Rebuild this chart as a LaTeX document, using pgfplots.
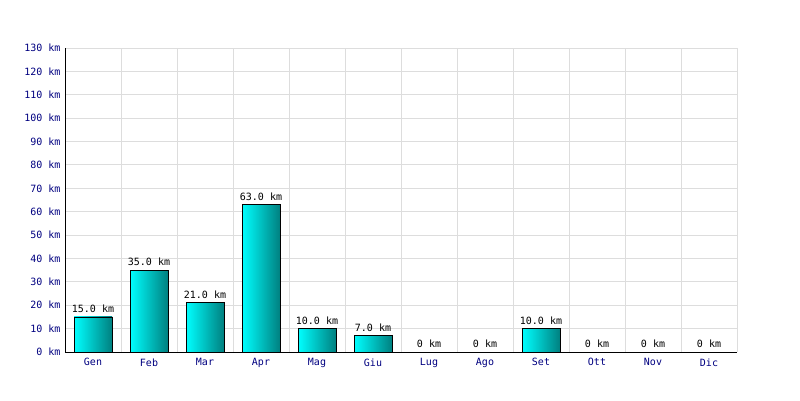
\documentclass[border=0pt]{standalone}
\usepackage{pgfplots}
\pgfplotsset{compat=1.18}
\usepackage{fontspec}
\setmainfont{DejaVu Sans Mono}
\definecolor{tickblue}{HTML}{000080}
\definecolor{gridgray}{HTML}{DDDDDD}
\definecolor{barteal}{RGB}{0,128,128}
\pgfplotsset{
  kmbar/.style={ybar, bar width=38pt, bar shift=0pt, draw=black, line width=0.8pt,
      left color=cyan, right color=barteal,
      point meta=explicit symbolic,
      nodes near coords,
      every node near coord/.style={font=\fontsize{10}{12}\selectfont, text=black, inner sep=4pt}},
}
\begin{document}
\begin{tikzpicture}[x=1pt,y=1pt]
\useasboundingbox (0,0) rectangle (800,400);
\begin{axis}[
    at={(65pt,48pt)}, anchor=south west,
    scale only axis, width=672pt, height=304pt,
    xmin=-0.5, xmax=11.5, ymin=0, ymax=130,
    xtick={0,...,11},
    xticklabels={Gen,Feb,Mar,Apr,Mag,Giu,Lug,Ago,Set,Ott,Nov,Dic},
    minor xtick={-0.5,0.5,...,11.5},
    ytick={0,10,...,130},
    yticklabel={\pgfmathprintnumber{\tick} km},
    ymajorgrids, xminorgrids,
    grid style={gridgray, line width=1pt},
    minor grid style={gridgray, line width=1pt},
    major tick length=0pt, minor tick length=0pt,
    axis x line*=bottom, axis y line*=left,
    axis line style={black, line width=1pt, -},
    tick label style={font=\fontsize{10}{12}\selectfont, text=tickblue},
    /pgf/number format/assume math mode=true,
    xticklabel style={yshift=-3pt},
    yticklabel style={xshift=-1pt},
    clip=false,
  ]
  \addplot[kmbar] coordinates {(0,15) [15.0 km]};
  \addplot[kmbar] coordinates {(1,35) [35.0 km]};
  \addplot[kmbar] coordinates {(2,21) [21.0 km]};
  \addplot[kmbar] coordinates {(3,63) [63.0 km]};
  \addplot[kmbar] coordinates {(4,10) [10.0 km]};
  \addplot[kmbar] coordinates {(5,7) [7.0 km]};
  \addplot[kmbar] coordinates {(6,0) [0 km]};
  \addplot[kmbar] coordinates {(7,0) [0 km]};
  \addplot[kmbar] coordinates {(8,10) [10.0 km]};
  \addplot[kmbar] coordinates {(9,0) [0 km]};
  \addplot[kmbar] coordinates {(10,0) [0 km]};
  \addplot[kmbar] coordinates {(11,0) [0 km]};
\end{axis}
\end{tikzpicture}
\end{document}
